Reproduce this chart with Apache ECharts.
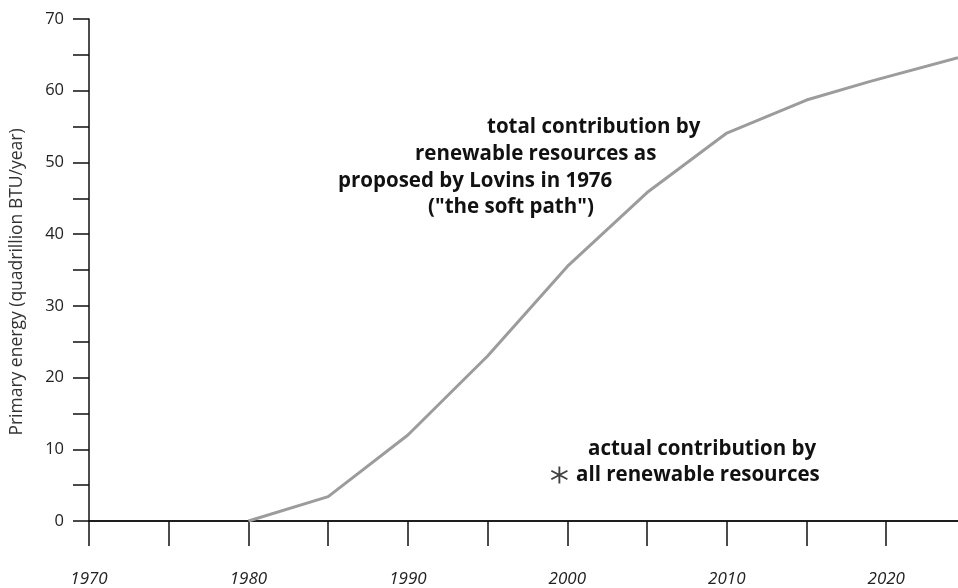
<!DOCTYPE html>
<html>
<head>
<meta charset="utf-8">
<script src="https://cdn.jsdelivr.net/npm/echarts@6/dist/echarts.min.js"></script>
<style>html,body{margin:0;padding:0;background:#fff}#c{width:958px;height:588px}</style>
</head>
<body>
<div id="c"></div>
<script>
// Lovins "soft path": total renewable contribution (quadrillion BTU/year)
const softYears = [1980, 1985, 1990, 1995, 2000, 2005, 2010, 2015, 2019, 2024.5];
const softValues = [0, 3.4, 12, 23, 35.5, 45.8, 54.1, 58.7, 61.3, 64.6];
// actual contribution by all renewable resources
const actualYears = [1999.5];
const actualValues = [6.4];
// axis ticks and tick labels
const xTicks = [1970, 1975, 1980, 1985, 1990, 1995, 2000, 2005, 2010, 2015, 2020];
const xTickLabels = [1970, 1980, 1990, 2000, 2010, 2020];
const yTickLabels = [0, 10, 20, 30, 40, 50, 60, 70];
const annotationSoft = ['total contribution by', 'renewable resources as', 'proposed by Lovins in 1976', '("the soft path")'];
const annotationActual = ['actual contribution by', 'all renewable resources'];

const asterisk = 'path://M-1,-10L1,-10L1,10L-1,10Z' +
  'M8.16,5.87L-9.16,-4.13L-8.16,-5.87L9.16,4.13Z' +
  'M9.16,-4.13L-8.16,5.87L-9.16,4.13L8.16,-5.87Z';

const chart = echarts.init(document.getElementById('c'), null, {renderer: 'canvas'});
const txtFont = 'Open Sans';
const annStyle = {fontFamily: txtFont, fontWeight: 'bold', fontSize: 20.5, fill: '#111'};
const graphics = [];
const softPos = [[487, 117], [415, 144], [338, 171], [428, 197]];
annotationSoft.forEach((t, i) => graphics.push({type: 'text', left: softPos[i][0], top: softPos[i][1], style: Object.assign({text: t}, annStyle)}));
const actPos = [[588, 439], [576, 465]];
annotationActual.forEach((t, i) => graphics.push({type: 'text', left: actPos[i][0], top: actPos[i][1], style: Object.assign({text: t}, annStyle)}));

chart.setOption({
  animation: false,
  backgroundColor: '#fff',
  grid: {left: 88, right: 0, top: 19, bottom: 67, containLabel: false},
  xAxis: [{
    type: 'value', min: 1970, max: 2024.5, position: 'bottom',
    axisLine: {show: true, onZero: false, lineStyle: {color: '#111', width: 1.5}},
    axisTick: {show: true, inside: false, length: 25, customValues: xTicks, lineStyle: {color: '#111', width: 1.5}},
    axisLabel: {margin: 50, fontFamily: txtFont, fontStyle: 'italic', fontSize: 17, color: '#222',
      customValues: xTickLabels, formatter: v => String(v)},
    splitLine: {show: false}
  }, {
    type: 'value', min: 1970, max: 2024.5, position: 'top',
    axisLine: {show: true, lineStyle: {color: '#111', width: 1.5}},
    axisTick: {show: false}, axisLabel: {show: false}, splitLine: {show: false}
  }],
  yAxis: {
    type: 'value', min: 0, max: 70, interval: 5,
    name: 'Primary energy (quadrillion BTU/year)', nameLocation: 'middle', nameGap: 63,
    nameTextStyle: {fontFamily: txtFont, fontSize: 17.5, color: '#333', padding: [0, 24, 0, 0]},
    axisLine: {show: true, onZero: false, lineStyle: {color: '#111', width: 1.5}},
    axisTick: {show: true, length: 16, lineStyle: {color: '#111', width: 1.5}},
    axisLabel: {margin: 25, fontFamily: txtFont, fontSize: 16.5, color: '#222',
      formatter: v => yTickLabels.indexOf(v) >= 0 ? String(v) : ''},
    splitLine: {show: false}
  },
  series: [{
    type: 'line', xAxisIndex: 0,
    data: softYears.map((y, i) => [y, softValues[i]]),
    showSymbol: false, symbol: 'none',
    lineStyle: {color: '#9c9c9c', width: 3}
  }, {
    type: 'scatter', xAxisIndex: 0,
    data: actualYears.map((y, i) => [y, actualValues[i]]),
    symbol: asterisk, symbolSize: 17,
    itemStyle: {color: '#111'}
  }],
  graphic: graphics
});
</script>
</body>
</html>
